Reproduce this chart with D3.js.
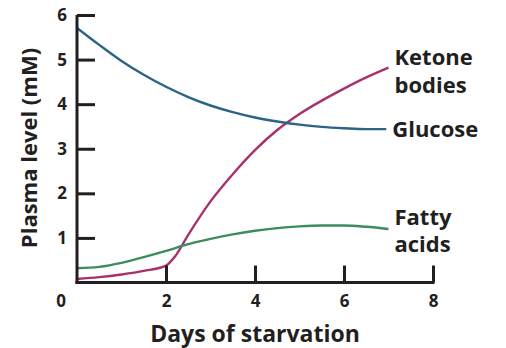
<html>
<meta charset="utf-8" />
<head>
<title>Plasma levels during starvation</title>
<script src="https://cdn.jsdelivr.net/npm/d3@7"></script>
<style>
	body { margin: 0; background: #fff; }
	svg text { font-family: "Open Sans", "Liberation Sans", sans-serif; font-weight: 700; fill: #231f20; }
</style>
<script>
// values (days, mM)
const glucoseDays = [0, 0.5, 1, 1.5, 2, 2.5, 3, 3.5, 4, 4.5, 5, 5.5, 6, 6.5, 6.95];
const glucoseVals = [5.71, 5.33, 4.97, 4.66, 4.39, 4.16, 3.97, 3.82, 3.70, 3.61, 3.54, 3.49, 3.46, 3.44, 3.44];

const ketoneDays = [0, 0.5, 1, 1.5, 2, 2.2, 2.5, 3, 3.5, 4, 4.5, 5, 5.5, 6, 6.5, 7];
const ketoneVals = [0.08, 0.12, 0.18, 0.26, 0.38, 0.58, 1.07, 1.82, 2.43, 2.97, 3.42, 3.78, 4.08, 4.35, 4.6, 4.82];

const fattyDays = [0, 0.5, 1, 1.5, 2, 2.5, 3, 3.5, 4, 4.5, 5, 5.5, 6, 6.5, 7];
const fattyVals = [0.32, 0.35, 0.44, 0.57, 0.71, 0.86, 0.98, 1.08, 1.16, 1.22, 1.26, 1.28, 1.28, 1.25, 1.2];

const xTicks = [2, 4, 6, 8];
const yTicks = [1, 2, 3, 4, 5, 6];

window.onload = function() {
	let svg = d3.select('svg');

	let x = d3.scaleLinear().domain([0, 8]).range([77, 433]);
	let y = d3.scaleLinear().domain([0, 6]).range([282.5, 15]);

	let series = [
		{ name: ['Ketone', 'bodies'], days: ketoneDays, vals: ketoneVals, color: '#a8316c', dy: [-3, 25] },
		{ name: ['Glucose'], days: glucoseDays, vals: glucoseVals, color: '#2a6486', dy: [7.5] },
		{ name: ['Fatty', 'acids'], days: fattyDays, vals: fattyVals, color: '#3d8c5c', dy: [-4, 22.5] }
	];

	let line = d3.line()
		.x(d => x(d[0]))
		.y(d => y(d[1]))
		.curve(d3.curveMonotoneX);

	series.forEach(s => {
		let pts = s.days.map((d, i) => [d, s.vals[i]]);
		svg.append('path')
			.attr('d', line(pts))
			.attr('fill', 'none')
			.attr('stroke', s.color)
			.attr('stroke-width', 2.4);

		let last = pts[pts.length - 1];
		s.name.forEach((t, i) => {
			svg.append('text')
				.attr('x', x(last[0]) + 6)
				.attr('y', y(last[1]) + s.dy[i])
				.style('font-size', '22px')
				.text(t);
		});
	});

	// axes: ticks point inward
	let gx = svg.append('g')
		.attr('transform', 'translate(0,' + y(0) + ')')
		.call(d3.axisBottom(x).tickValues(xTicks).tickFormat(d3.format('d'))
			.tickSizeInner(-17).tickSizeOuter(0).tickPadding(12));

	let gy = svg.append('g')
		.attr('transform', 'translate(' + x(0) + ',0)')
		.call(d3.axisLeft(y).tickValues(yTicks).tickFormat(d3.format('d'))
			.tickSizeInner(-18).tickSizeOuter(0).tickPadding(10));

	[gx, gy].forEach(g => {
		g.selectAll('path, line').attr('stroke', '#231f20').attr('stroke-width', 3);
		g.selectAll('text').style('font-size', '17px').attr('fill', '#231f20');
	});
	gx.select('.domain').attr('d', 'M' + (x(0) - 1.5) + ',0H' + (x(8) + 1.5));
	gy.select('.domain').attr('d', 'M0,' + (y(0) + 1.5) + 'V' + y(6));

	// shared origin label
	svg.append('text')
		.attr('x', x(0) - 16)
		.attr('y', y(0) + 24.5)
		.attr('text-anchor', 'middle')
		.style('font-size', '17px')
		.text('0');

	svg.append('text')
		.attr('x', 255)
		.attr('y', 341.5)
		.attr('text-anchor', 'middle')
		.style('font-size', '23px')
		.text('Days of starvation');

	svg.append('text')
		.attr('transform', 'translate(36.5,148) rotate(-90)')
		.attr('text-anchor', 'middle')
		.style('font-size', '22px')
		.text('Plasma level (mM)');
}
</script>
</head>
<body>
<svg width="506" height="348"></svg>
</body>
</html>
